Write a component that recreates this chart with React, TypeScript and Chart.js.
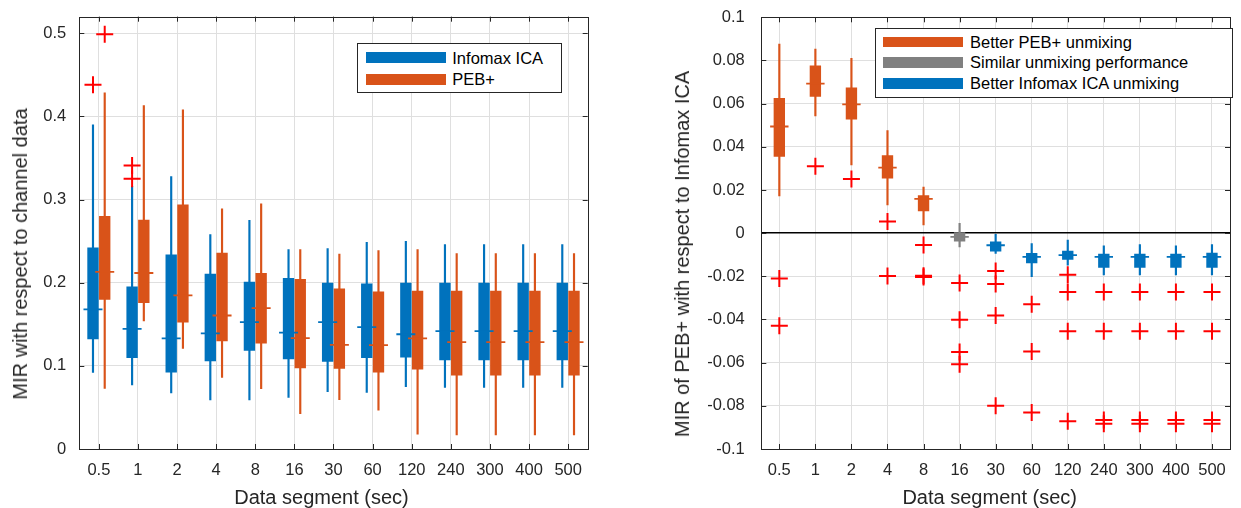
import React, { useEffect, useRef } from 'react';
import { Chart, registerables } from 'chart.js';

Chart.register(...registerables);

// ---------- shared categories ----------
const categories = ['0.5', '1', '2', '4', '8', '16', '30', '60', '120', '240', '300', '400', '500'];

// ---------- left panel: MIR with respect to channel data ----------
const icaLow = [0.092, 0.077, 0.0675, 0.059, 0.059, 0.062, 0.069, 0.068, 0.075, 0.074, 0.074, 0.074, 0.074];
const icaQ1 = [0.1325, 0.11, 0.0924, 0.106, 0.1185, 0.1084, 0.1052, 0.11, 0.1104, 0.1072, 0.1072, 0.1072, 0.1072];
const icaMedian = [0.168, 0.1446, 0.133, 0.139, 0.1526, 0.14, 0.1526, 0.1466, 0.138, 0.1418, 0.1418, 0.1418, 0.1418];
const icaQ3 = [0.242, 0.195, 0.2337, 0.2104, 0.2008, 0.2052, 0.1996, 0.1988, 0.1996, 0.1996, 0.1996, 0.1996, 0.1996];
const icaHigh = [0.39, 0.316, 0.3277, 0.258, 0.275, 0.2398, 0.241, 0.2486, 0.2498, 0.2458, 0.2458, 0.2458, 0.2458];
const icaOutliers = [[0.438], [0.341, 0.325], [], [], [], [], [], [], [], [], [], [], []];

const pebLow = [0.073, 0.154, 0.1209, 0.086, 0.0727, 0.0426, 0.0594, 0.0466, 0.0177, 0.0169, 0.0169, 0.0169, 0.0169];
const pebQ1 = [0.18, 0.176, 0.1526, 0.13, 0.1273, 0.0976, 0.0968, 0.0924, 0.096, 0.0888, 0.0888, 0.0888, 0.0888];
const pebMedian = [0.213, 0.2117, 0.1847, 0.1606, 0.1695, 0.1333, 0.1253, 0.125, 0.133, 0.1285, 0.1285, 0.1285, 0.1285];
const pebQ3 = [0.28, 0.2755, 0.2936, 0.2357, 0.2112, 0.204, 0.1928, 0.189, 0.19, 0.19, 0.19, 0.19, 0.19];
const pebHigh = [0.4285, 0.413, 0.408, 0.289, 0.295, 0.2398, 0.2345, 0.2386, 0.2398, 0.235, 0.235, 0.235, 0.235];
const pebOutliers = [[0.499], [], [], [], [], [], [], [], [], [], [], [], []];

const leftYTicks = [0, 0.1, 0.2, 0.3, 0.4, 0.5];
const leftYMin = 0;
const leftYMax = 0.52;
const leftLegend = ['Infomax ICA', 'PEB+'];

// ---------- right panel: MIR of PEB+ with respect to Infomax ICA ----------
const diffLow = [0.0173, 0.0543, 0.0316, 0.0131, 0.0038, -0.0064, -0.0094, -0.0202, -0.0148, -0.0194, -0.0194, -0.0194, -0.0194];
const diffQ1 = [0.0356, 0.0634, 0.0528, 0.0255, 0.0103, -0.0037, -0.0083, -0.0138, -0.0122, -0.0159, -0.0159, -0.0159, -0.0159];
const diffMedian = [0.0494, 0.0693, 0.0597, 0.0304, 0.0159, -0.0017, -0.0056, -0.011, -0.0102, -0.011, -0.011, -0.011, -0.011];
const diffQ3 = [0.0625, 0.0775, 0.0673, 0.0359, 0.0174, 0.0003, -0.004, -0.0094, -0.0083, -0.0097, -0.0097, -0.0097, -0.0092];
const diffHigh = [0.0876, 0.0853, 0.081, 0.0475, 0.0213, 0.0045, -0.0006, -0.0048, -0.0032, -0.0059, -0.0053, -0.0059, -0.0053];
const diffOutliers = [
  [-0.021, -0.0429],
  [0.031],
  [0.0251],
  [0.0054, -0.0198],
  [-0.0055, -0.0197, -0.0203],
  [-0.0231, -0.0401, -0.0551, -0.0607],
  [-0.0175, -0.0236, -0.0381, -0.08],
  [-0.0329, -0.0548, -0.0831],
  [-0.0193, -0.0273, -0.0455, -0.0872],
  [-0.0273, -0.0455, -0.0866, -0.0883],
  [-0.0273, -0.0455, -0.0866, -0.0883],
  [-0.0273, -0.0455, -0.0866, -0.0883],
  [-0.0273, -0.0455, -0.0866, -0.0883],
];
const diffWinner = ['peb', 'peb', 'peb', 'peb', 'peb', 'similar', 'ica', 'ica', 'ica', 'ica', 'ica', 'ica', 'ica'];
const rightYTicks = [-0.1, -0.08, -0.06, -0.04, -0.02, 0, 0.02, 0.04, 0.06, 0.08, 0.1];
const rightYMin = -0.1;
const rightYMax = 0.1;
const rightLegend = ['Better PEB+ unmixing', 'Similar unmixing performance', 'Better Infomax ICA unmixing'];

const xTitle = 'Data segment (sec)';
const leftYTitle = 'MIR with respect to channel data';
const rightYTitle = 'MIR of PEB+ with respect to Infomax ICA';

// ---------- styles ----------
const BLUE = '#0072BD';
const ORANGE = '#D95319';
const GRAY = '#808080';
const RED = '#FF0000';
const AXIS = '#262626';
const GRID = '#dfdfdf';
const FONT = '"Liberation Sans", Arial, Helvetica, sans-serif';
const TICK_FONT = 16.5;
const TICK_LEN = 5;
const winnerColor: Record<string, string> = { peb: ORANGE, similar: GRAY, ica: BLUE };

const frameTicksPlugin = {
  id: 'frameTicks',
  afterDatasetsDraw(chart: any) {
    const { ctx, chartArea, scales } = chart;
    const { left, right, top, bottom } = chartArea;
    const xs = scales.x;
    const ys = scales.y;
    const a = (v: number) => Math.round(v) + 0.5;
    ctx.save();
    ctx.strokeStyle = AXIS;
    ctx.lineWidth = 1;
    ctx.beginPath();
    xs.ticks.forEach((t: any) => {
      const px = a(xs.getPixelForValue(t.value));
      ctx.moveTo(px, bottom);
      ctx.lineTo(px, bottom - TICK_LEN);
      ctx.moveTo(px, top);
      ctx.lineTo(px, top + TICK_LEN);
    });
    ys.ticks.forEach((t: any) => {
      const py = a(ys.getPixelForValue(t.value));
      ctx.moveTo(left, py);
      ctx.lineTo(left + TICK_LEN, py);
      ctx.moveTo(right, py);
      ctx.lineTo(right - TICK_LEN, py);
    });
    ctx.stroke();
    ctx.strokeRect(a(left), a(top), Math.round(right) - Math.round(left), Math.round(bottom) - Math.round(top));
    ctx.restore();
  },
};

type Series = { low: number[]; q1: number[]; med: number[]; q3: number[]; high: number[]; out: number[][] };

function boxplotDatasets(label: string, s: Series, colors: string[], offset: number, medianRadius: number) {
  const xs = categories.map((_, i) => i + 1 + offset);
  return [
    {
      type: 'bar',
      label: label + ' whisker',
      data: xs.map((x, i) => ({ x, y: [s.low[i], s.high[i]] })),
      backgroundColor: colors,
      barThickness: 1.5,
      grouped: false,
      order: 4,
    },
    {
      type: 'bar',
      label: label + ' box',
      data: xs.map((x, i) => ({ x, y: [s.q1[i], s.q3[i]] })),
      backgroundColor: colors,
      barThickness: 10.7,
      grouped: false,
      order: 3,
    },
    {
      type: 'scatter',
      label: label + ' median',
      data: xs.map((x, i) => ({ x, y: s.med[i] })),
      pointStyle: 'line',
      pointRadius: medianRadius,
      pointBorderColor: colors,
      pointBackgroundColor: colors,
      pointBorderWidth: 1.8,
      order: 2,
    },
    {
      type: 'scatter',
      label: label + ' outliers',
      data: s.out.flatMap((vals, i) => vals.map((v) => ({ x: xs[i], y: v }))),
      pointStyle: 'cross',
      pointRadius: 8.5,
      pointBorderColor: RED,
      pointBackgroundColor: RED,
      pointBorderWidth: 2,
      order: 1,
    },
  ];
}

function makeOptions(cfg: {
  yTicks: number[];
  yMin: number;
  yMax: number;
  padding: any;
  yWidth: number;
  yPad: number;
  zeroLine: boolean;
}) {
  return {
    responsive: false,
    animation: false,
    events: [],
    layout: { padding: cfg.padding },
    plugins: { legend: { display: false }, tooltip: { enabled: false }, title: { display: false } },
    scales: {
      x: {
        type: 'linear',
        min: 0.5,
        max: categories.length + 0.5,
        offset: false,
        afterBuildTicks: (s: any) => {
          s.ticks = categories.map((_, i) => ({ value: i + 1 }));
        },
        afterFit: (s: any) => {
          s.height = 59;
          s.paddingLeft = 0;
          s.paddingRight = 0;
          s.paddingTop = 0;
          s.paddingBottom = 0;
        },
        grid: { color: GRID, lineWidth: 1, drawTicks: false, offset: false },
        border: { display: false },
        ticks: {
          color: AXIS,
          padding: 11.5,
          font: { size: TICK_FONT, family: FONT },
          maxRotation: 0,
          autoSkip: false,
          callback: (v: number) => categories[Math.round(v) - 1] ?? '',
        },
      },
      y: {
        type: 'linear',
        min: cfg.yMin,
        max: cfg.yMax,
        afterBuildTicks: (s: any) => {
          s.ticks = cfg.yTicks.map((value) => ({ value }));
        },
        afterFit: (s: any) => {
          s.width = cfg.yWidth;
          s.paddingLeft = 0;
          s.paddingRight = 0;
          s.paddingTop = 0;
          s.paddingBottom = 0;
        },
        grid: {
          drawTicks: false,
          color: (c: any) => (cfg.zeroLine && c.tick && c.tick.value === 0 ? '#000000' : GRID),
          lineWidth: (c: any) => (cfg.zeroLine && c.tick && c.tick.value === 0 ? 1.5 : 1),
        },
        border: { display: false },
        ticks: {
          color: AXIS,
          padding: cfg.yPad,
          font: { size: TICK_FONT, family: FONT },
          callback: (v: number) => String(v),
        },
      },
    },
  };
}

export default function App() {
  const leftRef = useRef<HTMLCanvasElement | null>(null);
  const rightRef = useRef<HTMLCanvasElement | null>(null);

  useEffect(() => {
    Chart.defaults.font.family = FONT;
    Chart.defaults.color = AXIS;

    const blues = categories.map(() => BLUE);
    const oranges = categories.map(() => ORANGE);
    const diffColors = diffWinner.map((w) => winnerColor[w]);

    const left = new Chart(leftRef.current as HTMLCanvasElement, {
      type: 'bar',
      data: {
        datasets: [
          ...boxplotDatasets(
            leftLegend[0],
            { low: icaLow, q1: icaQ1, med: icaMedian, q3: icaQ3, high: icaHigh, out: icaOutliers },
            blues,
            -0.15,
            9.5
          ),
          ...boxplotDatasets(
            leftLegend[1],
            { low: pebLow, q1: pebQ1, med: pebMedian, q3: pebQ3, high: pebHigh, out: pebOutliers },
            oranges,
            0.15,
            9.5
          ),
        ] as any,
      },
      options: makeOptions({
        yTicks: leftYTicks,
        yMin: leftYMin,
        yMax: leftYMax,
        padding: { left: 0, right: 32.3, top: 16.7, bottom: 0 },
        yWidth: 79.3,
        yPad: 13,
        zeroLine: false,
      }) as any,
      plugins: [frameTicksPlugin],
    });

    const right = new Chart(rightRef.current as HTMLCanvasElement, {
      type: 'bar',
      data: {
        datasets: boxplotDatasets(
          'MIR difference',
          { low: diffLow, q1: diffQ1, med: diffMedian, q3: diffQ3, high: diffHigh, out: diffOutliers },
          diffColors,
          0,
          9.2
        ) as any,
      },
      options: makeOptions({
        yTicks: rightYTicks,
        yMin: rightYMin,
        yMax: rightYMax,
        padding: { left: 0, right: 4.3, top: 17.3, bottom: 0 },
        yWidth: 141.3,
        yPad: 16.5,
        zeroLine: true,
      }) as any,
      plugins: [frameTicksPlugin],
    });

    return () => {
      left.destroy();
      right.destroy();
    };
  }, []);

  const textBase: React.CSSProperties = {
    position: 'absolute',
    fontFamily: FONT,
    color: AXIS,
    lineHeight: 1,
    whiteSpace: 'nowrap',
  };

  const legendRow = (label: string, color: string, left: number, top: number, h: number, gap: number) => (
    <div key={label} style={{ position: 'absolute', left, top, height: h, display: 'flex', alignItems: 'center' }}>
      <div style={{ width: 80, height: h, background: color, flex: 'none' }} />
      <span style={{ marginLeft: gap, fontSize: TICK_FONT, lineHeight: 1, whiteSpace: 'nowrap', color: '#000' }}>{label}</span>
    </div>
  );

  const legendBox: React.CSSProperties = {
    position: 'absolute',
    boxSizing: 'border-box',
    border: '1px solid ' + AXIS,
    background: '#ffffff',
  };

  return (
    <div
      style={{
        position: 'absolute',
        left: 0,
        top: 0,
        width: 1241,
        height: 508,
        background: '#ffffff',
        overflow: 'hidden',
        fontFamily: FONT,
      }}
    >
      <canvas ref={leftRef} width={620} height={508} style={{ position: 'absolute', left: 0, top: 0 }} />
      <canvas ref={rightRef} width={621} height={508} style={{ position: 'absolute', left: 620, top: 0 }} />

      {/* axis titles */}
      <div style={{ ...textBase, fontSize: 20, left: 321.5, top: 486.7, transform: 'translateX(-50%)' }}>{xTitle}</div>
      <div style={{ ...textBase, fontSize: 20, left: 989.7, top: 486.7, transform: 'translateX(-50%)' }}>{xTitle}</div>
      <div
        style={{
          ...textBase,
          fontSize: 20,
          height: 20,
          left: 20,
          top: 254,
          transform: 'translate(-50%, -50%) rotate(-90deg)',
        }}
      >
        {leftYTitle}
      </div>
      <div
        style={{
          ...textBase,
          fontSize: 20,
          height: 20,
          left: 681.5,
          top: 254,
          transform: 'translate(-50%, -50%) rotate(-90deg)',
        }}
      >
        {rightYTitle}
      </div>

      {/* legends */}
      <div style={{ ...legendBox, left: 357.3, top: 43.3, width: 204.4, height: 50 }} />
      {legendRow(leftLegend[0], BLUE, 365.7, 52.3, 11, 6.6)}
      {legendRow(leftLegend[1], ORANGE, 365.7, 74, 11, 6.6)}

      <div style={{ ...legendBox, left: 875.3, top: 27.7, width: 358, height: 70 }} />
      {legendRow(rightLegend[0], ORANGE, 883.3, 36.7, 10.3, 6.7)}
      {legendRow(rightLegend[1], GRAY, 883.3, 57.3, 10.3, 6.7)}
      {legendRow(rightLegend[2], BLUE, 883.3, 78.3, 10.3, 6.7)}
    </div>
  );
}
